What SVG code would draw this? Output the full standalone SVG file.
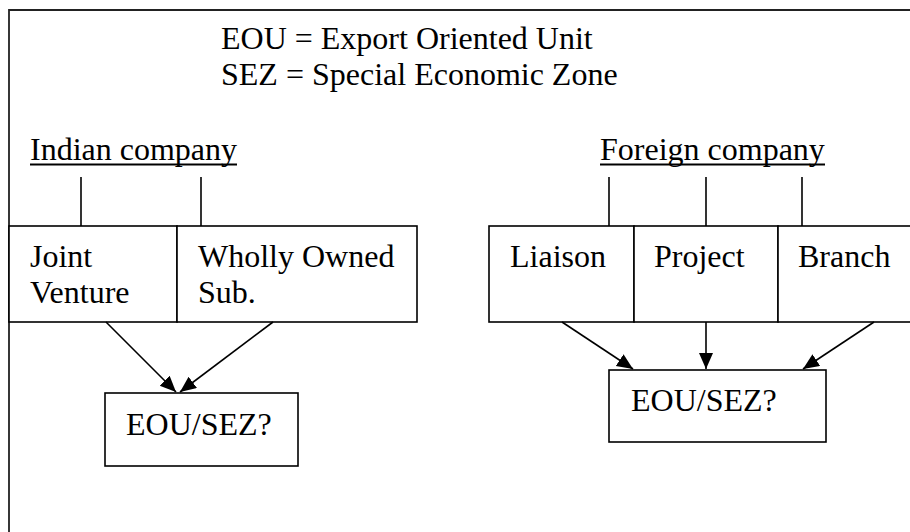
<svg xmlns="http://www.w3.org/2000/svg" width="910" height="532" viewBox="0 0 910 532">
<style>
text{font-family:"Liberation Serif","Times New Roman",serif;font-size:32px;fill:#000}
.box{fill:#fff;stroke:#000;stroke-width:1.6}
.ln{stroke:#000;stroke-width:1.6;fill:none}
.frame{stroke:#222;stroke-width:1.8;fill:none}
</style>
<defs>
<marker id="ah" markerUnits="userSpaceOnUse" markerWidth="18" markerHeight="16" refX="16" refY="7" orient="auto">
<path d="M0,0 L16,7 L0,14 Z" fill="#000"/>
</marker>
</defs>
<rect width="910" height="532" fill="#fff"/>
<path class="frame" d="M9,532 V10 H910"/>
<g id="legend">
<text x="221" y="49">EOU = Export Oriented Unit</text>
<text x="221" y="85">SEZ = Special Economic Zone</text>
</g>
<g id="indian">
<text x="30" y="160">Indian company</text>
<line x1="30" y1="164.5" x2="237" y2="164.5" stroke="#000" stroke-width="2"/>
</g>
<g id="foreign">
<text x="600" y="160">Foreign company</text>
<line x1="600" y1="164.5" x2="825" y2="164.5" stroke="#000" stroke-width="2"/>
</g>
<g id="jv">
<rect class="box" x="9" y="226" width="168" height="96"/>
<text x="30" y="267">Joint</text>
<text x="30" y="303">Venture</text>
</g>
<g id="wos">
<rect class="box" x="177" y="226" width="240" height="96"/>
<text x="198" y="267">Wholly Owned</text>
<text x="198" y="303">Sub.</text>
</g>
<g id="liaison">
<rect class="box" x="489" y="226" width="145" height="96"/>
<text x="510" y="267">Liaison</text>
</g>
<g id="project">
<rect class="box" x="634" y="226" width="144" height="96"/>
<text x="654" y="267">Project</text>
</g>
<g id="branch">
<rect class="box" x="778" y="226" width="140" height="96"/>
<text x="798" y="267">Branch</text>
</g>
<g id="eou1">
<rect class="box" x="105" y="393" width="193" height="73"/>
<text x="126" y="435">EOU/SEZ?</text>
</g>
<g id="eou2">
<rect class="box" x="609" y="370" width="217" height="72"/>
<text x="631" y="411">EOU/SEZ?</text>
</g>
<g id="connectors">
<line class="ln" x1="81" y1="177" x2="81" y2="226"/>
<line class="ln" x1="201" y1="177" x2="201" y2="226"/>
<line class="ln" x1="609" y1="177" x2="609" y2="226"/>
<line class="ln" x1="706" y1="177" x2="706" y2="226"/>
<line class="ln" x1="802" y1="177" x2="802" y2="226"/>
<line class="ln" x1="106" y1="322" x2="176" y2="392" marker-end="url(#ah)"/>
<line class="ln" x1="273" y1="322" x2="180" y2="392" marker-end="url(#ah)"/>
<line class="ln" x1="562" y1="322" x2="633" y2="369" marker-end="url(#ah)"/>
<line class="ln" x1="706" y1="322" x2="706" y2="369" marker-end="url(#ah)"/>
<line class="ln" x1="874" y1="322" x2="803" y2="369" marker-end="url(#ah)"/>
</g>
</svg>
